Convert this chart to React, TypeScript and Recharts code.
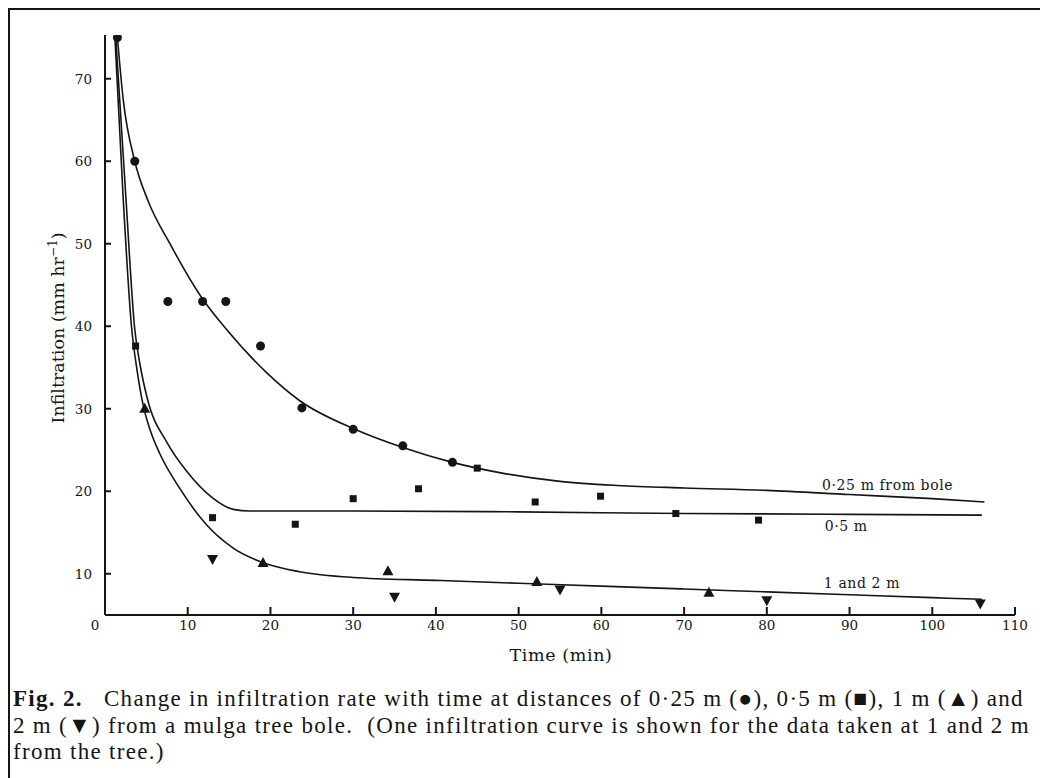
import { ComposedChart, Line, Scatter, XAxis, YAxis, ReferenceDot } from 'recharts'

// measured points
const pts025 = [
  { x: 1.5, y: 75 }, { x: 3.6, y: 60 }, { x: 7.6, y: 43 }, { x: 11.8, y: 43 },
  { x: 14.6, y: 43 }, { x: 18.8, y: 37.6 }, { x: 23.8, y: 30.1 }, { x: 30, y: 27.5 },
  { x: 36, y: 25.5 }, { x: 42, y: 23.5 },
]
const pts05 = [
  { x: 3.7, y: 37.6 }, { x: 13, y: 16.8 }, { x: 23, y: 16 }, { x: 30, y: 19.1 },
  { x: 37.9, y: 20.3 }, { x: 45, y: 22.8 }, { x: 52, y: 18.7 }, { x: 59.9, y: 19.4 },
  { x: 69, y: 17.3 }, { x: 79, y: 16.5 },
]
const pts1 = [
  { x: 4.8, y: 30 }, { x: 19.1, y: 11.3 }, { x: 34.2, y: 10.3 }, { x: 52.2, y: 9 }, { x: 73, y: 7.7 },
]
const pts2 = [
  { x: 13, y: 11.8 }, { x: 35, y: 7.2 }, { x: 55, y: 8.1 }, { x: 80, y: 6.8 }, { x: 105.8, y: 6.4 },
]

// fitted curves
const curve025 = [
  { x: 1.5, y: 75 }, { x: 2.2, y: 67.5 }, { x: 3.6, y: 60 }, { x: 5.2, y: 55.2 }, { x: 7.85, y: 50 },
  { x: 11.8, y: 43.3 }, { x: 14.7, y: 39.6 }, { x: 19.5, y: 34.4 }, { x: 23.5, y: 31 },
  { x: 30, y: 27.6 }, { x: 36, y: 25.3 }, { x: 42, y: 23.5 }, { x: 48, y: 22.2 }, { x: 55, y: 21.2 },
  { x: 62, y: 20.7 }, { x: 70, y: 20.4 }, { x: 80, y: 20.1 }, { x: 90, y: 19.6 }, { x: 100, y: 19.1 },
  { x: 106.3, y: 18.7 },
]
const curve05 = [
  { x: 1.3, y: 75 }, { x: 2.5, y: 56 }, { x: 3.6, y: 39.6 }, { x: 4.3, y: 35 }, { x: 5.1, y: 31.3 },
  { x: 7.5, y: 25.9 }, { x: 9.9, y: 22.4 }, { x: 13, y: 19.2 }, { x: 15.5, y: 17.8 }, { x: 17.5, y: 17.6 },
  { x: 30, y: 17.6 }, { x: 50, y: 17.5 }, { x: 70, y: 17.3 }, { x: 90, y: 17.2 }, { x: 106, y: 17.1 },
]
const curve12 = [
  { x: 1.2, y: 75 }, { x: 2.2, y: 55.5 }, { x: 3.2, y: 40 }, { x: 3.9, y: 34.5 }, { x: 4.6, y: 30.5 },
  { x: 5.5, y: 27.3 }, { x: 6.6, y: 24.6 }, { x: 9, y: 20.4 }, { x: 12.3, y: 15.9 }, { x: 15.5, y: 13.1 },
  { x: 19.5, y: 11.2 }, { x: 23.5, y: 10.25 }, { x: 30, y: 9.55 }, { x: 40, y: 9.2 }, { x: 50, y: 8.85 },
  { x: 60, y: 8.5 }, { x: 70, y: 8.15 }, { x: 80, y: 7.8 }, { x: 90, y: 7.45 }, { x: 100, y: 7.1 },
  { x: 106, y: 6.9 },
]

const xTicks = [0, 10, 20, 30, 40, 50, 60, 70, 80, 90, 100, 110]
const yTicks = [10, 20, 30, 40, 50, 60, 70]

const curveLabels = [
  { x: 94.6, y: 20.8, text: '0·25 m from bole' },
  { x: 89.6, y: 15.8, text: '0·5 m' },
  { x: 91.5, y: 8.9, text: '1 and 2 m' },
]

const serif = '"DejaVu Serif", serif'
const capFont = '"Liberation Serif", serif'
const ink = '#151515'

const Dot = (p: any) => <circle cx={p.cx} cy={p.cy} r={4.5} fill={ink} />
const Sq = (p: any) => <rect x={p.cx - 3.5} y={p.cy - 3.5} width={7} height={7} fill={ink} />
const Up = (p: any) => (
  <path d={`M${p.cx},${p.cy - 6} L${p.cx + 5.5},${p.cy + 4} L${p.cx - 5.5},${p.cy + 4} Z`} fill={ink} />
)
const Down = (p: any) => (
  <path d={`M${p.cx},${p.cy + 6} L${p.cx + 5.5},${p.cy - 4} L${p.cx - 5.5},${p.cy - 4} Z`} fill={ink} />
)

const XTick = ({ x, y, payload }: any) => (
  <text x={payload.value === 0 ? x - 10 : x} y={y} dy={11} textAnchor="middle" fontFamily={serif} fontSize={13.5} fill={ink}>
    {payload.value}
  </text>
)
const YTick = ({ x, y, payload }: any) => (
  <text x={x} y={y} dy={5} textAnchor="end" fontFamily={serif} fontSize={13.5} fill={ink}>
    {payload.value}
  </text>
)

const YTitle = ({ viewBox }: any) => {
  const cx = viewBox.x + 54
  const cy = viewBox.y + viewBox.height / 2 + 3
  return (
    <text x={cx} y={cy} transform={`rotate(-90 ${cx} ${cy})`} textAnchor="middle" fontFamily={serif} fontSize={17.5} fill={ink}>
      Infiltration  (mm hr<tspan dy={-7} fontSize={12}>−1</tspan><tspan dy={7}>)</tspan>
    </text>
  )
}
const XTitle = ({ viewBox }: any) => (
  <text x={viewBox.x + viewBox.width / 2 + 1} y={viewBox.y + 46} textAnchor="middle" fontFamily={serif} fontSize={17.5} letterSpacing={0.6} fill={ink}>
    Time  (min)
  </text>
)

export default function App() {
  return (
    <div style={{ position: 'relative', width: 1040, height: 770, borderTop: `2px solid ${ink}`, borderLeft: `2px solid ${ink}`, background: '#fff' }}>
      <ComposedChart width={1038} height={660} margin={{ top: 25, right: 33, left: 0, bottom: 10 }}>
        <XAxis
          type="number"
          dataKey="x"
          domain={[0, 110]}
          ticks={xTicks}
          interval={0}
          allowDataOverflow
          stroke={ink}
          strokeWidth={2}
          tickSize={-8}
          tickMargin={12}
          tick={XTick}
          height={45}
          label={{ content: XTitle }}
        />
        <YAxis
          type="number"
          dataKey="y"
          domain={[5, 75.3]}
          ticks={yTicks}
          interval={0}
          allowDataOverflow
          stroke={ink}
          strokeWidth={2}
          tickSize={-6}
          tickMargin={19}
          tick={YTick}
          width={95}
          label={{ content: YTitle }}
        />
        <Line data={curve025} dataKey="y" type="monotone" stroke={ink} strokeWidth={1.6} dot={false} isAnimationActive={false} />
        <Line data={curve05} dataKey="y" type="monotone" stroke={ink} strokeWidth={1.6} dot={false} isAnimationActive={false} />
        <Line data={curve12} dataKey="y" type="monotone" stroke={ink} strokeWidth={1.6} dot={false} isAnimationActive={false} />
        <Scatter data={pts025} dataKey="y" shape={Dot} isAnimationActive={false} />
        <Scatter data={pts05} dataKey="y" shape={Sq} isAnimationActive={false} />
        <Scatter data={pts1} dataKey="y" shape={Up} isAnimationActive={false} />
        <Scatter data={pts2} dataKey="y" shape={Down} isAnimationActive={false} />
        {curveLabels.map((c) => (
          <ReferenceDot
            key={c.text}
            x={c.x}
            y={c.y}
            r={0}
            fill="none"
            stroke="none"
            label={{ value: c.text, position: 'center', fontFamily: serif, fontSize: 14, letterSpacing: 0.6, fill: ink }}
          />
        ))}
      </ComposedChart>
      <div style={{ position: 'absolute', left: 3, top: 676, width: 1036, fontFamily: capFont, fontSize: 23, letterSpacing: 1.3, lineHeight: '26.5px', color: ink, whiteSpace: 'nowrap' }}>
        <div>
          <b>Fig. 2.</b>{'\u00a0\u00a0 '}Change in infiltration rate with time at distances of 0·25 m (●), 0·5 m (■), 1 m (▲) and
        </div>
        <div>
          2 m (▼) from a mulga tree bole.{'\u00a0 '}(One infiltration curve is shown for the data taken at 1 and 2 m
        </div>
        <div>from the tree.)</div>
      </div>
    </div>
  )
}
